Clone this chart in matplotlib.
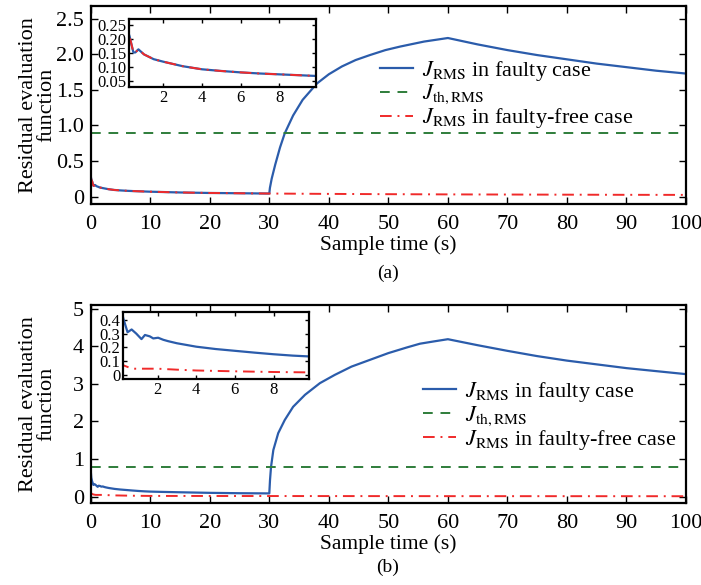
import matplotlib
matplotlib.use("Agg")
import matplotlib.pyplot as plt
from matplotlib.ticker import FixedLocator, FixedFormatter

plt.rcParams["font.family"] = ["Liberation Serif", "DejaVu Serif"]
plt.rcParams["mathtext.fontset"] = "stix"

BLUE = "#2b5cab"
GREEN = "#2e7d3a"
RED = "#f02a2a"

# ---- panel (a) ----
# before the fault (0-30 s) both residuals coincide
t_a_early = [0, 0.1, 0.25, 0.45, 0.55, 0.71, 1.0, 1.5, 2, 3, 4, 5, 6, 7, 8, 9, 10, 15, 20, 25, 30]
j_a_early = [0.29, 0.24, 0.21, 0.152, 0.152, 0.163, 0.145, 0.128, 0.119, 0.103, 0.092, 0.086,
             0.081, 0.077, 0.074, 0.071, 0.068, 0.057, 0.050, 0.046, 0.042]
t_a_fault = [30.1, 30.4, 31, 31.8, 32.6, 34, 35.6, 38, 40, 42.2, 44.5, 46.9, 49.5, 52, 56, 60,
             65, 70, 75, 80, 85, 90, 95, 100]
j_a_fault = [0.12, 0.25, 0.45, 0.69, 0.89, 1.14, 1.36, 1.59, 1.72, 1.83, 1.92, 1.99, 2.06, 2.11,
             2.18, 2.23, 2.14, 2.06, 1.99, 1.93, 1.87, 1.82, 1.77, 1.73]
t_a_free = [40, 50, 60, 70, 80, 90, 100]
j_a_free = [0.037, 0.033, 0.030, 0.028, 0.026, 0.024, 0.023]
th_a = 0.9

# ---- panel (b) ----
t_b_early = [0, 0.1, 0.23, 0.45, 0.66, 0.9, 1.17, 1.35, 1.6, 1.78, 2.03, 2.3, 2.55, 3, 4, 5, 6,
             7, 8, 9, 10, 12, 15, 20, 25, 30]
j_b_early = [0.70, 0.50, 0.41, 0.31, 0.33, 0.30, 0.26, 0.29, 0.28, 0.265, 0.27, 0.255, 0.245,
             0.23, 0.205, 0.188, 0.175, 0.162, 0.150, 0.140, 0.133, 0.125, 0.115, 0.100, 0.090,
             0.085]
t_b_fault = [30.12, 30.29, 30.68, 31.5, 32.6, 34, 36, 38.5, 41, 43.8, 46.9, 50, 53.1, 55.3,
             57.6, 60, 65, 70, 75, 80, 85, 90, 95, 100]
j_b_fault = [0.44, 0.79, 1.24, 1.69, 2.04, 2.39, 2.71, 3.02, 3.24, 3.46, 3.64, 3.82, 3.97, 4.07,
             4.13, 4.19, 4.03, 3.88, 3.74, 3.62, 3.52, 3.42, 3.34, 3.26]
t_b_free = [0, 0.23, 0.5, 0.83, 1.5, 2, 3, 4, 6, 8, 10, 20, 30, 60, 100]
j_b_free = [0.10, 0.07, 0.055, 0.045, 0.045, 0.045, 0.038, 0.032, 0.026, 0.021, 0.018, 0.016,
            0.015, 0.012, 0.010]
th_b = 0.8

x_ticks = [0, 10, 20, 30, 40, 50, 60, 70, 80, 90, 100]
y_ticks_a = [0, 0.5, 1.0, 1.5, 2.0, 2.5]
y_labels_a = ["0", "0.5", "1.0", "1.5", "2.0", "2.5"]
y_ticks_b = [0, 1, 2, 3, 4, 5]
in_x_ticks = [2, 4, 6, 8]
in_y_ticks_a = [0.05, 0.10, 0.15, 0.20, 0.25]
in_y_labels_a = ["0.05", "0.10", "0.15", "0.20", "0.25"]
in_y_ticks_b = [0, 0.1, 0.2, 0.3, 0.4]
in_y_labels_b = ["0", "0.1", "0.2", "0.3", "0.4"]

LABELS = [r"$J_{\mathrm{RMS}}$ in faulty case", r"$J_{\mathrm{th,RMS}}$",
          r"$J_{\mathrm{RMS}}$ in faulty-free case"]


def style_axis(ax, size, length, pad):
    ax.tick_params(direction="in", top=True, right=True, labelsize=size, length=length,
                   width=1.0, pad=pad)
    for s in ax.spines.values():
        s.set_linewidth(1.6)


def draw_panel(ax, t_early, j_early, t_fault, j_fault, t_free, j_free, th, free_from_early):
    tf = t_early + t_fault
    jf = j_early + j_fault
    if free_from_early:
        tr = t_early + t_free
        jr = j_early + j_free
    else:
        tr, jr = t_free, j_free
    l1, = ax.plot(tf, jf, color=BLUE, lw=1.6)
    l2, = ax.plot([0, 100], [th, th], color=GREEN, lw=1.4, ls=(0, (5, 4)))
    l3, = ax.plot(tr, jr, color=RED, lw=1.4, ls=(0, (6, 3, 1, 3)))
    return [l1, l2, l3]


fig = plt.figure(figsize=(7.01, 5.85), dpi=100)

ax_a = fig.add_axes([0.1294, 0.6513, 0.8492, 0.3384])
ax_b = fig.add_axes([0.1294, 0.1402, 0.8492, 0.3384])

for ax, early, fault, free, th, reuse, yt, yl, ylim, leg_pos in [
    (ax_a, (t_a_early, j_a_early), (t_a_fault, j_a_fault), (t_a_free, j_a_free), th_a, True,
     y_ticks_a, y_labels_a, (-0.105, 2.68), (0.486, 0.732)),
    (ax_b, (t_b_early, j_b_early), (t_b_fault, j_b_fault), (t_b_free, j_b_free), th_b, False,
     y_ticks_b, [str(v) for v in y_ticks_b], (-0.17, 5.1), (0.558, 0.62)),
]:
    lines = draw_panel(ax, early[0], early[1], fault[0], fault[1], free[0], free[1], th, reuse)
    ax.set_xlim(0, 100)
    ax.set_ylim(*ylim)
    ax.xaxis.set_major_locator(FixedLocator(x_ticks))
    ax.yaxis.set_major_locator(FixedLocator(yt))
    ax.yaxis.set_major_formatter(FixedFormatter(yl))
    style_axis(ax, 16, 5, 5)
    ax.tick_params(axis="x", pad=8)
    ax.set_xlabel("Sample time (s)", fontsize=15.5, labelpad=1)
    ax.set_ylabel("Residual evaluation\nfunction", fontsize=16, linespacing=0.95)
    ax.yaxis.set_label_coords(-0.058, 0.5)
    ax.legend(lines, LABELS, loc="upper left", bbox_to_anchor=leg_pos, frameon=False,
              fontsize=16, handlelength=1.5, handletextpad=0.4, labelspacing=0.0,
              borderaxespad=0, borderpad=0)

fig.text(0.5535, 0.533, "(a)", ha="center", va="center", fontsize=14)
fig.text(0.5535, 0.031, "(b)", ha="center", va="center", fontsize=14)

# insets
in_a = fig.add_axes([0.1845, 0.8513, 0.2663, 0.1157])
draw_panel(in_a, t_a_early, j_a_early, t_a_fault, j_a_fault, t_a_free, j_a_free, th_a, True)
in_a.set_xlim(0.24, 9.9)
in_a.set_ylim(0.029, 0.27)
in_a.xaxis.set_major_locator(FixedLocator(in_x_ticks))
in_a.yaxis.set_major_locator(FixedLocator(in_y_ticks_a))
in_a.yaxis.set_major_formatter(FixedFormatter(in_y_labels_a))
style_axis(in_a, 12, 3, 2)

in_b = fig.add_axes([0.1759, 0.3521, 0.2653, 0.1141])
draw_panel(in_b, t_b_early, j_b_early, t_b_fault, j_b_fault, t_b_free, j_b_free, th_b, False)
in_b.set_xlim(0.23, 9.85)
in_b.set_ylim(-0.03, 0.455)
in_b.xaxis.set_major_locator(FixedLocator(in_x_ticks))
in_b.yaxis.set_major_locator(FixedLocator(in_y_ticks_b))
in_b.yaxis.set_major_formatter(FixedFormatter(in_y_labels_b))
style_axis(in_b, 12, 3, 2)

fig.savefig("out.png", dpi=100)
